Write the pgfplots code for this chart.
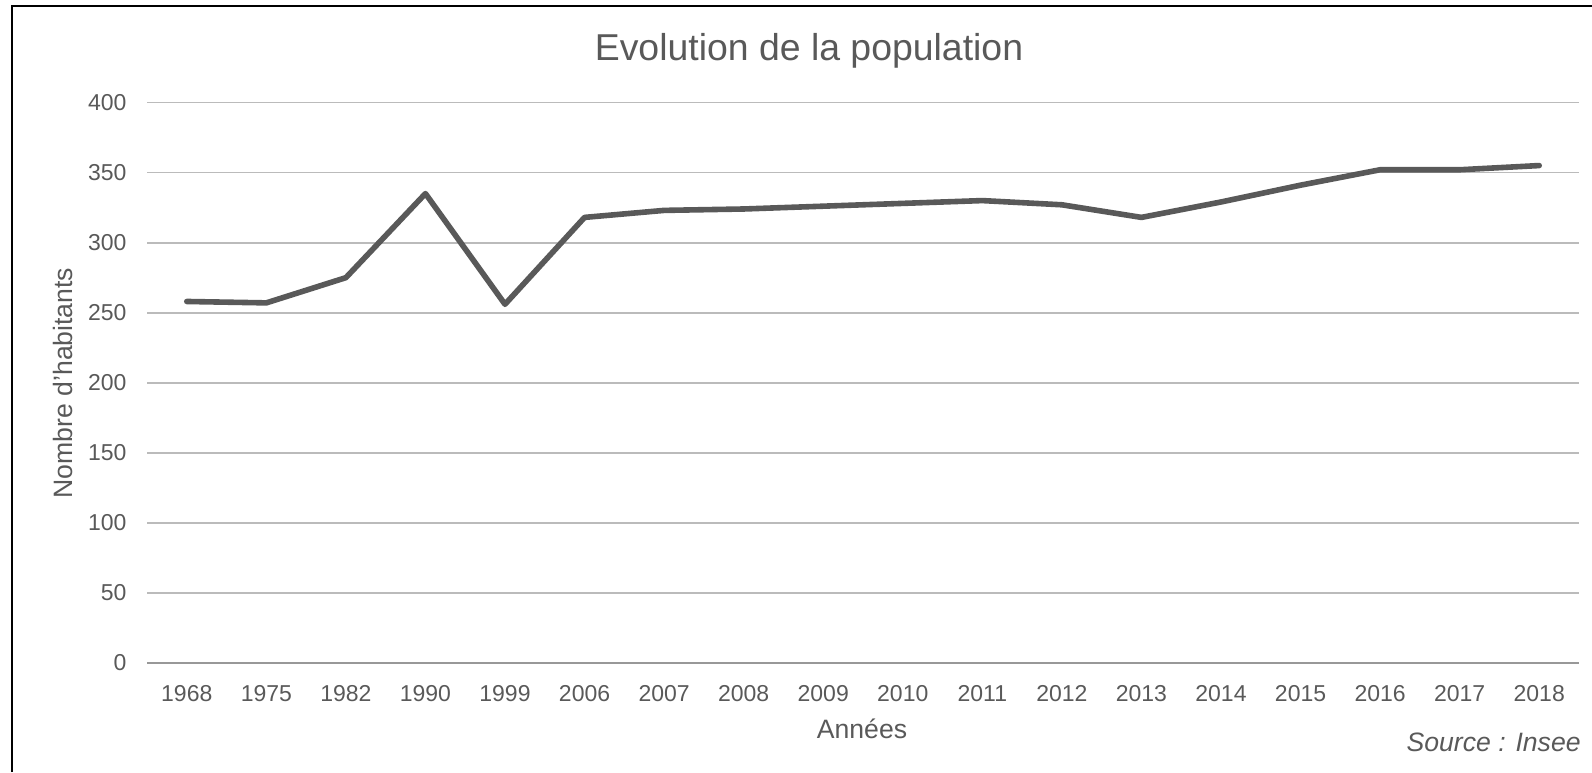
\documentclass[border=0pt]{standalone}
\usepackage{pgfplots}
\pgfplotsset{compat=1.18}
\usepackage{fontspec}
\setmainfont{Liberation Sans}
\definecolor{txt}{HTML}{595959}
\definecolor{gridc}{HTML}{BBBBBB}
\definecolor{axc}{HTML}{989898}
\definecolor{linec}{HTML}{595959}
\begin{document}
\begin{tikzpicture}
\useasboundingbox (0,0) rectangle (796pt,386pt);
\draw[black, line width=1.2pt] (6pt,0) -- (6pt,383pt) -- (796pt,383pt);
\begin{axis}[
  at={(73.5pt,54.5pt)}, anchor=south west,
  scale only axis, width=716pt, height=280.25pt,
  xmin=-0.5, xmax=17.5, ymin=0, ymax=400,
  xtick={0,...,17},
  xticklabels={1968,1975,1982,1990,1999,2006,2007,2008,2009,2010,2011,2012,2013,2014,2015,2016,2017,2018},
  ytick={0,50,...,400},
  ymajorgrids, grid style={gridc, line width=0.9pt},
  axis lines*=left,
  x axis line style={axc, line width=0.9pt, -},
  y axis line style={draw=none},
  major tick length=0pt,
  tick label style={font=\fontsize{11.5pt}{13pt}\selectfont, text=txt},
  xticklabel style={yshift=-7.8pt},
  yticklabel style={xshift=-6.7pt},
  /pgf/number format/assume math mode=true,
  /pgf/number format/1000 sep={},
  clip=false,
]
\addplot[linec, line width=2.8pt, line join=round, line cap=round] coordinates {
(0,258) (1,257) (2,275) (3,335) (4,256) (5,318) (6,323) (7,324) (8,326)
(9,328) (10,330) (11,327) (12,318) (13,329) (14,341) (15,352) (16,352) (17,355)
};
\end{axis}
\node[text=txt, font=\fontsize{18.7pt}{22pt}\selectfont, inner sep=0] at (404.5pt,360.5pt) {Evolution de la population};
\node[text=txt, font=\fontsize{13.3pt}{16pt}\selectfont, inner sep=0] at (431pt,21.5pt) {Années};
\node[text=txt, font=\fontsize{13.3pt}{16pt}\selectfont\itshape, inner sep=0, anchor=east] at (790.5pt,14.65pt) {Source : Insee};
\node[text=txt, font=\fontsize{13.3pt}{16pt}\selectfont, inner sep=0, rotate=90] at (31.5pt,194.5pt) {Nombre d'habitants};
\end{tikzpicture}
\end{document}
